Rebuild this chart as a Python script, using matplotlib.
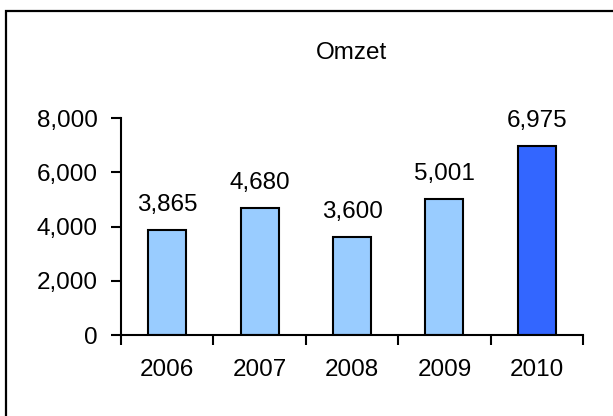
import matplotlib.pyplot as plt
import matplotlib.patches as patches
from matplotlib.ticker import FuncFormatter

plt.rcParams.update({"font.family": ["Liberation Sans", "DejaVu Sans"], "font.size": 17.5})

years = ['2006', '2007', '2008', '2009', '2010']
omzet = [3865, 4680, 3600, 5001, 6975]
colors = ['#99CCFF', '#99CCFF', '#99CCFF', '#99CCFF', '#3366FF']

fig = plt.figure(figsize=(6.13, 4.16), dpi=100)
ax = fig.add_axes([0.1974, 0.1947, 0.7537, 0.5216])

x = range(len(years))
bars = ax.bar(x, omzet, width=0.41, color=colors, edgecolor='black', linewidth=1.5)
for xi, v in zip(x, omzet):
    ax.annotate(f'{v:,}', (xi, v), xytext=(0, 10), textcoords='offset points',
                ha='center', va='bottom', fontsize=17.5)

ax.set_xlim(-0.5, len(years) - 0.5)
ax.set_ylim(0, 8000)
ax.set_yticks([0, 2000, 4000, 6000, 8000])
ax.yaxis.set_major_formatter(FuncFormatter(lambda v, p: f'{int(v):,}'))
ax.set_xticks([i - 0.5 for i in range(len(years) + 1)], minor=False)
ax.set_xticklabels([])
ax.set_xticks(list(x), minor=True)
ax.set_xticklabels(years, minor=True)
ax.tick_params(axis='x', which='major', direction='out', length=7, width=1.5)
ax.tick_params(axis='x', which='minor', length=0, pad=17)
ax.tick_params(axis='y', direction='out', length=7, width=1.5, pad=10)

for s in ['top', 'right']:
    ax.spines[s].set_visible(False)
for s in ['left', 'bottom']:
    ax.spines[s].set_linewidth(1.5)

fig.text(0.574, 0.872, 'Omzet', ha='center', va='center', fontsize=17.5)

# outer frame (cropped on right and bottom)
fig.patches.append(patches.Rectangle((6 / 613, -0.1), 1.2, 1.1 - 10.5 / 416,
                                     transform=fig.transFigure, fill=False,
                                     edgecolor='black', linewidth=1.6))

plt.savefig('out.png', dpi=100)
